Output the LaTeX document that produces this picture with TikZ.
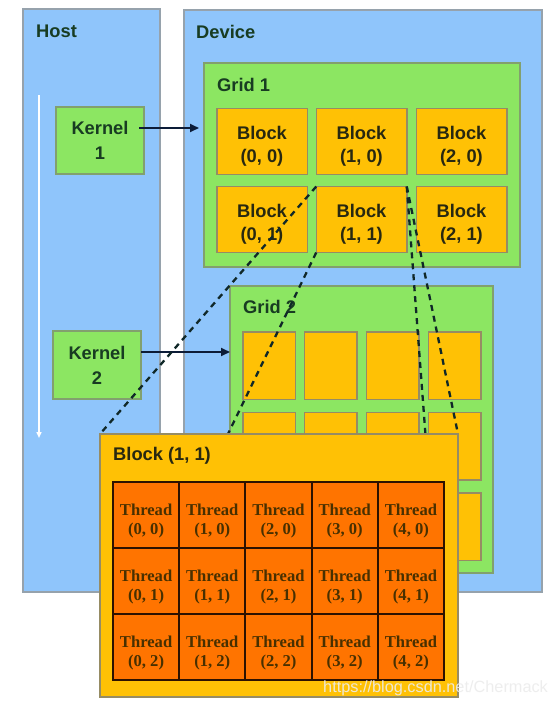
\documentclass[tikz,border=0pt]{standalone}
\usepackage{fontspec}
\setmainfont{Liberation Sans}
\newfontfamily\thrfont{Liberation Serif}
\usetikzlibrary{arrows.meta}
\definecolor{hostblue}{RGB}{143,197,251}
\definecolor{panelgray}{RGB}{150,162,172}
\definecolor{gridgreen}{RGB}{140,230,98}
\definecolor{greengray}{RGB}{130,160,110}
\definecolor{blockorange}{RGB}{255,193,5}
\definecolor{blockgray}{RGB}{150,140,100}
\definecolor{threadorange}{RGB}{255,116,0}
\definecolor{threadline}{RGB}{45,18,0}
\definecolor{threadtext}{RGB}{72,48,0}
\definecolor{labeltext}{RGB}{24,60,34}
\definecolor{blocktext}{RGB}{40,40,16}
\definecolor{arrowblue}{RGB}{12,28,56}
\definecolor{dashcol}{RGB}{16,40,40}
\definecolor{wmark}{RGB}{236,236,236}
\begin{document}
\begin{tikzpicture}[x=1pt,y=-1pt,
  panel/.style={draw=panelgray,line width=1.5pt,fill=hostblue,inner sep=0pt,outer sep=0pt},
  gridbox/.style={draw=greengray,line width=1.5pt,fill=gridgreen,inner sep=0pt,outer sep=0pt},
  blockbox/.style={draw=blockgray,line width=1.5pt,fill=blockorange,inner sep=0pt,outer sep=0pt},
  blocklabel/.style={inner sep=0pt,font=\fontsize{18.3}{23}\selectfont\bfseries,text=blocktext,align=center},
  kernelbox/.style={draw=greengray,line width=1.5pt,fill=gridgreen,inner sep=0pt,outer sep=0pt,
    font=\fontsize{18.3}{25}\selectfont\bfseries,text=labeltext,align=center},
  title/.style={anchor=west,inner sep=0pt,font=\fontsize{18.3}{21}\selectfont\bfseries,text=labeltext},
  bigblock/.style={draw=blockgray,line width=1.5pt,fill=blockorange,inner sep=0pt,outer sep=0pt},
  threadcell/.style={draw=threadline,line width=2pt,fill=threadorange,inner sep=0pt,outer sep=0pt},
  threadlabel/.style={inner sep=0pt,font=\thrfont\fontsize{16.6}{19}\selectfont\bfseries,text=threadtext,align=center},
  karrow/.style={draw=arrowblue,line width=1.8pt,-{Triangle[length=9pt,width=8pt]}},
  dline/.style={draw=dashcol,line width=2.3pt,dash pattern=on 6pt off 5pt},
]
\fill[white] (0,0) rectangle (551,707);
\useasboundingbox (0,0) rectangle (551,707);

% Host and Device panels
\node[panel,minimum width=137pt,minimum height=583pt] (host) at (91.5,300.5) {};
\node[panel,minimum width=358pt,minimum height=582pt] (device) at (363,301) {};
\node[title] (hostlbl) at (36,31.5) {Host};
\node[title] (devlbl) at (196,31.5) {Device};

% white time arrow in host
\coordinate (ws) at (39,95);
\coordinate (we) at (39,438);
\draw[white,line width=2pt,-{Triangle[length=6pt,width=5pt]}] (ws) -- (we);

% Grid 1
\node[gridbox,minimum width=316pt,minimum height=204pt] (grid1) at (362,165) {};
\node[title] (g1lbl) at (217,84.5) {Grid 1};
\foreach \c/\x in {0/262,1/361.5,2/461.5}
  \foreach \r/\y in {0/141.5,1/219.5}
    \node[blockbox,minimum width=90.5pt,minimum height=66pt,
      label={[blocklabel,yshift=-5pt]center:{Block\\(\c, \r)}}] (b\c\r) at (\x,\y) {};

% Grid 2
\node[gridbox,minimum width=263pt,minimum height=287pt] (grid2) at (361.5,429.5) {};
\node[title] (g2lbl) at (243,306.5) {Grid 2};
\foreach \c/\x in {0/269,1/330.5,2/392.5,3/454.5}
  \foreach \r/\y in {0/365.5,1/446,2/526.5}
    \node[blockbox,minimum width=52.5pt,minimum height=67.5pt] (gb\c\r) at (\x,\y) {};

% Kernels
\node[kernelbox,minimum width=88pt,minimum height=67pt] (k1) at (100,140.5) {Kernel\\1};
\node[kernelbox,minimum width=88pt,minimum height=68pt] (k2) at (97,365) {Kernel\\2};
\draw[karrow] ([xshift=-5pt,yshift=12.5pt]k1.east) -- ([xshift=-5pt,yshift=12.5pt]k1.east -| grid1.west);
\draw[karrow] ([yshift=13pt]k2.east) -- ([yshift=13pt]k2.east -| grid2.west);

% expanded Block (1,1) corners, for the dashed lines
\coordinate (bbnw) at (100,434);
\coordinate (bbsw) at (100,697);
\coordinate (bbne) at (458,434);
\coordinate (tgse) at (444,680);
\draw[dline] (b11.north west) -- (bbnw);
\draw[dline] (b11.south west) -- (bbsw);
\draw[dline] (b11.north east) -- (bbne);
\draw[dline] (b11.north east) -- (tgse);

% Block (1,1) enlarged
\node[bigblock,minimum width=358pt,minimum height=263pt] (bb) at (279,565.5) {};
\node[title,text=blocktext] (bblbl) at (113,455.5) {Block (1, 1)};
\foreach \c in {0,...,4}
  \foreach \r in {0,1,2}
    \node[threadcell,minimum width=66.2pt,minimum height=66pt,
      label={[threadlabel,yshift=-6pt]center:{Thread\\(\c, \r)}}] (t\c\r) at ({146.1+66.2*\c},{515+66*\r}) {};
\node[draw=threadline,line width=2.2pt,minimum width=331pt,minimum height=198pt,inner sep=0pt] (tg) at (278.5,581) {};

% watermark
\node[anchor=west,inner sep=0pt,text=wmark,opacity=0.9,font=\fontsize{16.3}{16}\selectfont] (wm) at (323,688) {https://blog.csdn.net/Chermack};
\end{tikzpicture}
\end{document}
